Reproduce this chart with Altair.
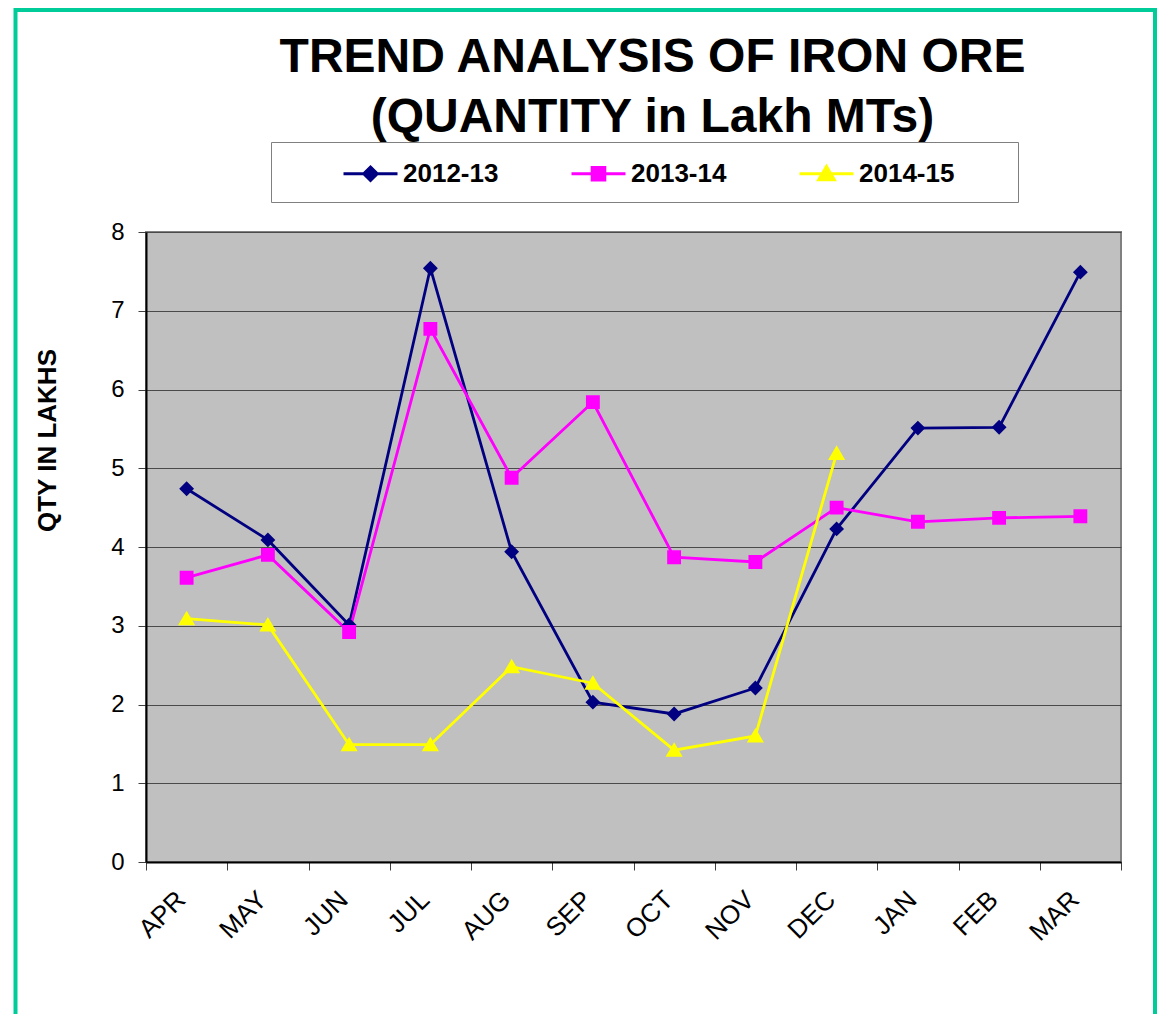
import altair as alt
import pandas as pd

FONT = "Liberation Sans"

months = ["APR", "MAY", "JUN", "JUL", "AUG", "SEP", "OCT", "NOV", "DEC", "JAN", "FEB", "MAR"]
series = ["2012-13", "2013-14", "2014-15"]
v_2012_13 = [4.74, 4.09, 3.01, 7.54, 3.94, 2.03, 1.88, 2.21, 4.23, 5.51, 5.52, 7.49]
v_2013_14 = [3.61, 3.90, 2.92, 6.77, 4.88, 5.84, 3.87, 3.81, 4.50, 4.32, 4.37, 4.39]
v_2014_15 = [3.09, 3.01, 1.49, 1.49, 2.48, 2.27, 1.42, 1.60, 5.19]
colors = ["#000080", "#FF00FF", "#FFFF00"]
y_ticks = [0, 1, 2, 3, 4, 5, 6, 7, 8]

# line-through-marker symbols (the line part is only visible in the legend)
shapes = [
    "M-1.8,0H1.8M0,-0.45L0.45,0L0,0.45L-0.45,0Z",
    "M-1.8,0H1.8M-0.42,-0.42H0.42V0.42H-0.42Z",
    "M-1.8,0H1.8M0,-0.48L0.52,0.4H-0.52Z",
]

rows = []
for s, vals in zip(series, [v_2012_13, v_2013_14, v_2014_15]):
    for i, v in enumerate(vals):
        rows.append({"month": months[i], "series": s, "qty": v, "idx": i})
df = pd.DataFrame(rows)

x_enc = alt.X(
    "month:N",
    sort=months,
    bandPosition=0.5,
    scale=alt.Scale(type="band", paddingInner=0, paddingOuter=0),
    axis=alt.Axis(
        title=None, tickBand="extent", labelAngle=315, labelAlign="right",
        labelBaseline="alphabetic", labelFont=FONT, labelFontSize=26, labelColor="black",
        labelPadding=31, tickSize=8, tickColor="#404040", tickWidth=1,
        domainColor="black", domainWidth=2, grid=False,
    ),
)
y_enc = alt.Y(
    "qty:Q",
    scale=alt.Scale(domain=[0, 8], nice=False),
    axis=alt.Axis(
        title="QTY IN LAKHS", values=y_ticks, format="d",
        labelFont=FONT, labelFontSize=24, labelColor="black", labelPadding=14,
        tickSize=8, tickColor="#404040", tickWidth=1,
        domainColor="black", domainWidth=2,
        grid=True, gridColor="#4a4a4a", gridWidth=1,
        titleFont=FONT, titleFontSize=26, titleFontWeight="bold", titleColor="black",
        titleX=-99, titleY=208, titleAlign="center", titleBaseline="middle",
    ),
)

color_scale = alt.Scale(domain=series, range=colors)
blank = "\u2800"
pad = "\u00a0" * 4 + blank
legend = alt.Legend(
    title=blank, titleOrient="left", titleFontSize=10, titlePadding=61,
    orient="none", legendX=125, legendY=-90, direction="horizontal", columns=3,
    padding=15, fillColor="white", strokeColor="#808080",
    symbolSize=900, symbolStrokeWidth=3,
    labelFont=FONT, labelFontSize=26, labelFontWeight="bold",
    labelColor="black", labelOffset=16, columnPadding=18, labelLimit=500,
    labelExpr=f"datum.label + '{pad}'",
)

lines = alt.Chart(df).mark_line(strokeWidth=2.8).encode(
    x=x_enc, y=y_enc,
    color=alt.Color("series:N", scale=color_scale, legend=None),
    order=alt.Order("idx:Q"),
)

points = alt.Chart(df).mark_point(filled=True, opacity=1, size=1089, strokeWidth=3).encode(
    x=x_enc, y=y_enc,
    color=alt.Color("series:N", scale=color_scale, legend=legend),
    stroke=alt.Stroke("series:N", scale=alt.Scale(domain=series, range=colors), legend=legend),
    shape=alt.Shape("series:N", scale=alt.Scale(domain=series, range=shapes), legend=legend),
    strokeOpacity=alt.value(0),
)

border = alt.Chart(pd.DataFrame({"k": [0]})).mark_rect(
    fillOpacity=0, stroke="#00CC99", strokeWidth=4
).encode(
    x=alt.value(-130.5), x2=alt.value(1009), y=alt.value(-222), y2=alt.value(800)
)

chart = alt.layer(border, lines, points).resolve_legend(
    color="independent", stroke="independent", shape="independent"
).properties(
    width=975, height=630,
    background="white",
    autosize=alt.AutoSizeParams(type="none"),
    padding={"left": 138, "top": 224, "right": 36, "bottom": 152},
    title=alt.TitleParams(
        text=["TREND ANALYSIS OF IRON ORE", "(QUANTITY in Lakh MTs)"],
        font=FONT, fontSize=48, fontWeight="bold", color="black",
        anchor="middle", frame="group", lineHeight=60, dx=19, offset=0,
        baseline="alphabetic", dy=172,
    ),
).configure_view(
    fill="#C0C0C0", stroke="#808080", strokeWidth=2
)

chart.save("out.html", embed_options={"renderer": "svg", "actions": False})
